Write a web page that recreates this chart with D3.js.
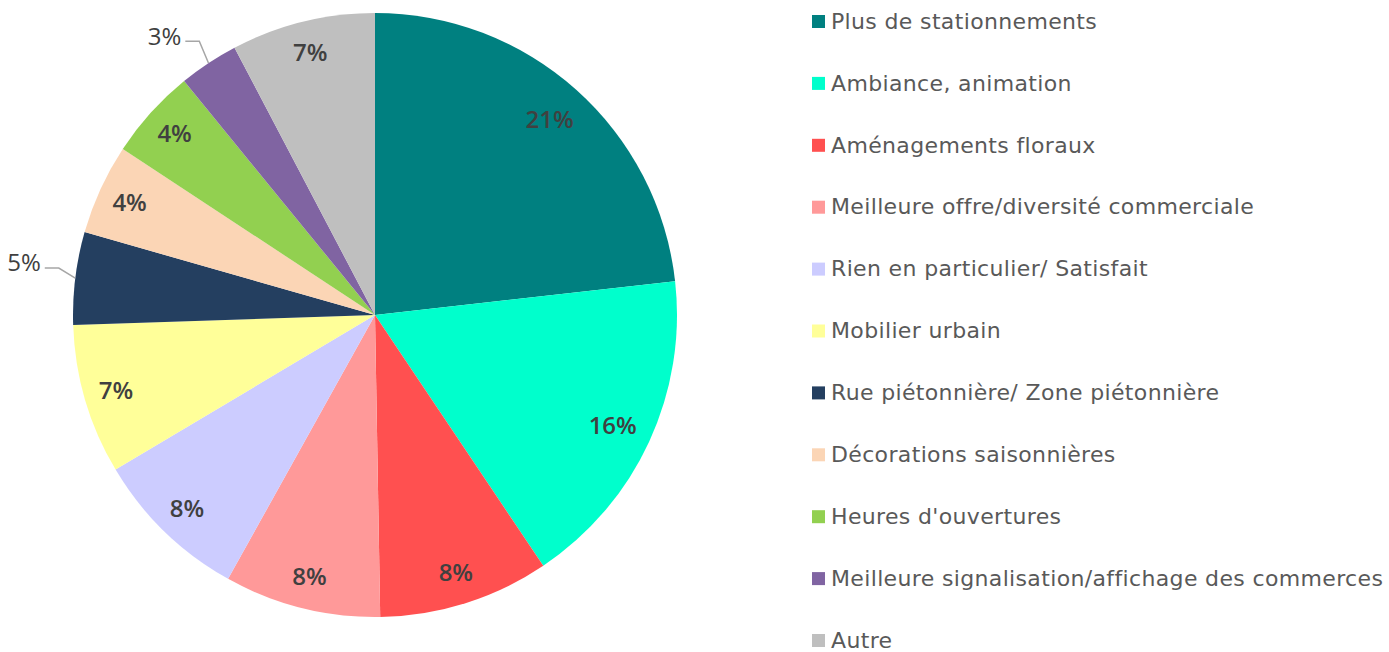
<!DOCTYPE html>
<html>
  <head>
    <meta charset="utf-8">
    <title>pie</title>
    <script src="https://cdn.jsdelivr.net/npm/d3@7"></script>
    <style>
body { margin: 0; background: #fff; }
.lbl { font-family: "Open Sans", "DejaVu Sans", sans-serif; font-size: 24px; font-weight: 600; fill: #404040; }
.leg { font-family: "DejaVu Sans", sans-serif; font-size: 22px; letter-spacing: 0.35px; fill: #595959; }
.leader { stroke: #a6a6a6; stroke-width: 1.5px; fill: none; }
    </style>
  </head>
  <body>
    <script>

var categories = ["Plus de stationnements", "Ambiance, animation", "Aménagements floraux",
  "Meilleure offre/diversité commerciale", "Rien en particulier/ Satisfait", "Mobilier urbain",
  "Rue piétonnière/ Zone piétonnière", "Décorations saisonnières", "Heures d'ouvertures",
  "Meilleure signalisation/affichage des commerces", "Autre"];
var values = [21.1, 15.8, 8.3, 7.6, 7.6, 7.3, 4.5, 4.4, 4.4, 2.9, 7.0];
var colors = ["#008080", "#00FFCC", "#FF5050", "#FF9999", "#CCCCFF", "#FFFF99",
  "#243F60", "#FBD5B5", "#92D050", "#8064A2", "#BFBFBF"];
var outside = [false, false, false, false, false, false, true, false, false, true, false];

var width = 1389, height = 652;
var cx = 375, cy = 315, r = 302;

var svg = d3.select("body").append("svg")
    .attr("width", width)
    .attr("height", height);

var pie = d3.pie().sort(null).value(function(d) { return d; });
var arcs = pie(values);
var arc = d3.arc().innerRadius(0).outerRadius(r);

var g = svg.append("g").attr("transform", "translate(" + cx + "," + cy + ")");

g.selectAll("path.slice").data(arcs).enter().append("path")
    .attr("class", "slice")
    .attr("d", arc)
    .attr("fill", function(d, i) { return colors[i]; });

function pct(v) { return Math.round(v) + "%"; }

arcs.forEach(function(d, i) {
  var a = (d.startAngle + d.endAngle) / 2;
  var sx = Math.sin(a), sy = -Math.cos(a);
  if (!outside[i]) {
    var lr = (i < 2) ? 262 : 270;
    g.append("text").attr("class", "lbl")
      .attr("x", sx * lr).attr("y", sy * lr)
      .attr("text-anchor", "middle").attr("dy", "0.35em")
      .text(pct(values[i]));
  } else {
    var p0 = [sx * r, sy * r];
    var p1 = [sx * r * 1.055, sy * r * 1.055 - 8];
    var p2 = [p1[0] - 14, p1[1]];
    g.append("path").attr("class", "leader")
      .attr("d", d3.line()([p0, p1, p2]));
    g.append("text").attr("class", "lbl").style("font-weight", 400)
      .attr("x", p2[0] - 4).attr("y", p2[1] - 5)
      .attr("text-anchor", "end").attr("dy", "0.35em")
      .text(pct(values[i]));
  }
});

var legend = svg.append("g").attr("transform", "translate(812,21)");
var row = legend.selectAll("g").data(categories).enter().append("g")
    .attr("transform", function(d, i) { return "translate(0," + i * 61.9 + ")"; });
row.append("rect").attr("x", 0).attr("y", -6).attr("width", 13).attr("height", 13)
    .attr("fill", function(d, i) { return colors[i]; });
row.append("text").attr("class", "leg").attr("x", 19).attr("dy", "0.35em")
    .text(function(d) { return d; });

</script>
  </body>
</html>
